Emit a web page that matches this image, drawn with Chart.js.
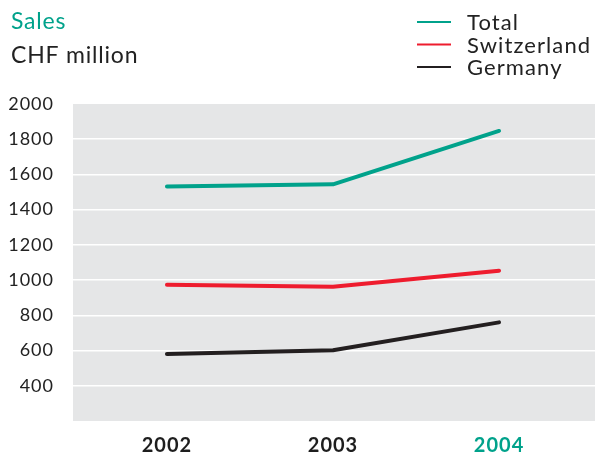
<!DOCTYPE html>
<html>
<head>
<meta charset="utf-8">
<script src="https://cdn.jsdelivr.net/npm/chart.js@4/dist/chart.umd.min.js"></script>
<style>
  html, body { margin: 0; padding: 0; background: #fff; }
  #wrap { position: relative; width: 595px; height: 456px; }
  canvas { display: block; }
</style>
</head>
<body>
<div id="wrap"><canvas id="c" width="595" height="456"></canvas></div>
<script>
// Sales by region, CHF million
const years = ['2002', '2003', '2004'];
const total = [1531, 1544, 1847];
const switzerland = [973, 962, 1053];
const germany = [580, 602, 760];
const seriesNames = ['Total', 'Switzerland', 'Germany'];
const yTicks = [400, 600, 800, 1000, 1200, 1400, 1600, 1800, 2000];

const TEAL = '#00A28B';
const RED = '#EE1C2E';
const BLACK = '#231F20';
const FONT = 'Lato, "Open Sans", sans-serif';

function toPoints(vals) { return vals.map((v, i) => ({ x: i, y: v })); }

// grey plot background; also widens letter spacing for the axis labels
const plotBg = {
  id: 'plotBg',
  beforeDraw(chart) {
    const { ctx, chartArea: a } = chart;
    ctx.save();
    ctx.fillStyle = '#E5E6E7';
    ctx.fillRect(a.left, a.top, a.right - a.left, a.bottom - a.top);
    ctx.restore();
    if ('letterSpacing' in ctx) ctx.letterSpacing = '1px';
  }
};

// heading and legend at the top
const header = {
  id: 'header',
  afterDraw(chart) {
    const ctx = chart.ctx;
    ctx.save();
    ctx.textBaseline = 'middle';
    ctx.textAlign = 'left';
    if ('letterSpacing' in ctx) ctx.letterSpacing = '0.8px';
    ctx.font = '23px ' + FONT;
    ctx.fillStyle = TEAL;
    ctx.fillText('Sales', 11, 22);
    ctx.fillStyle = '#222';
    ctx.fillText('CHF million', 11, 56);

    if ('letterSpacing' in ctx) ctx.letterSpacing = '1.1px';
    const rows = [22, 44.5, 67];
    chart.data.datasets.forEach((ds, i) => {
      const y = rows[i];
      ctx.strokeStyle = ds.borderColor;
      ctx.lineWidth = 2;
      ctx.beginPath();
      ctx.moveTo(417, y);
      ctx.lineTo(451, y);
      ctx.stroke();
      ctx.fillStyle = '#222';
      ctx.font = '22px ' + FONT;
      ctx.fillText(ds.label, 467, y + 1);
    });
    ctx.restore();
  }
};

new Chart(document.getElementById('c'), {
  type: 'line',
  data: {
    datasets: [
      { label: seriesNames[0], data: toPoints(total), borderColor: TEAL },
      { label: seriesNames[1], data: toPoints(switzerland), borderColor: RED },
      { label: seriesNames[2], data: toPoints(germany), borderColor: BLACK }
    ].map(d => Object.assign(d, {
      borderWidth: 4,
      tension: 0,
      pointRadius: 0,
      pointHoverRadius: 0,
      borderCapStyle: 'round',
      borderJoinStyle: 'round',
      fill: false
    }))
  },
  options: {
    responsive: false,
    animation: false,
    events: [],
    layout: { padding: { top: 104, left: 0, right: 0, bottom: 0 } },
    plugins: { legend: { display: false }, tooltip: { enabled: false }, title: { display: false } },
    scales: {
      x: {
        type: 'linear',
        min: -0.566,
        max: 2.578,
        afterBuildTicks(axis) { axis.ticks = years.map((_, i) => ({ value: i })); },
        afterFit(axis) { axis.height = 35; },
        border: { display: false },
        grid: { display: false, drawTicks: false },
        ticks: {
          padding: 13,
          autoSkip: false,
          maxRotation: 0,
          font: { family: FONT, size: 20, weight: 'bold' },
          color: ctx => (ctx.index === years.length - 1 ? TEAL : '#1E1E1E'),
          callback: v => years[v]
        }
      },
      y: {
        min: 200,
        max: 2000,
        afterBuildTicks(axis) { axis.ticks = [200].concat(yTicks).map(v => ({ value: v })); },
        afterFit(axis) { axis.width = 73; },
        border: { display: false },
        grid: {
          drawTicks: false,
          lineWidth: 1.5,
          color: ctx => (ctx.tick && (ctx.tick.value === 200 || ctx.tick.value === 2000) ? 'rgba(0,0,0,0)' : '#FFFFFF')
        },
        ticks: {
          padding: 19,
          font: { family: FONT, size: 18 },
          color: '#222',
          callback: v => (yTicks.includes(v) ? String(v) : '')
        }
      }
    }
  },
  plugins: [plotBg, header]
});
</script>
</body>
</html>
